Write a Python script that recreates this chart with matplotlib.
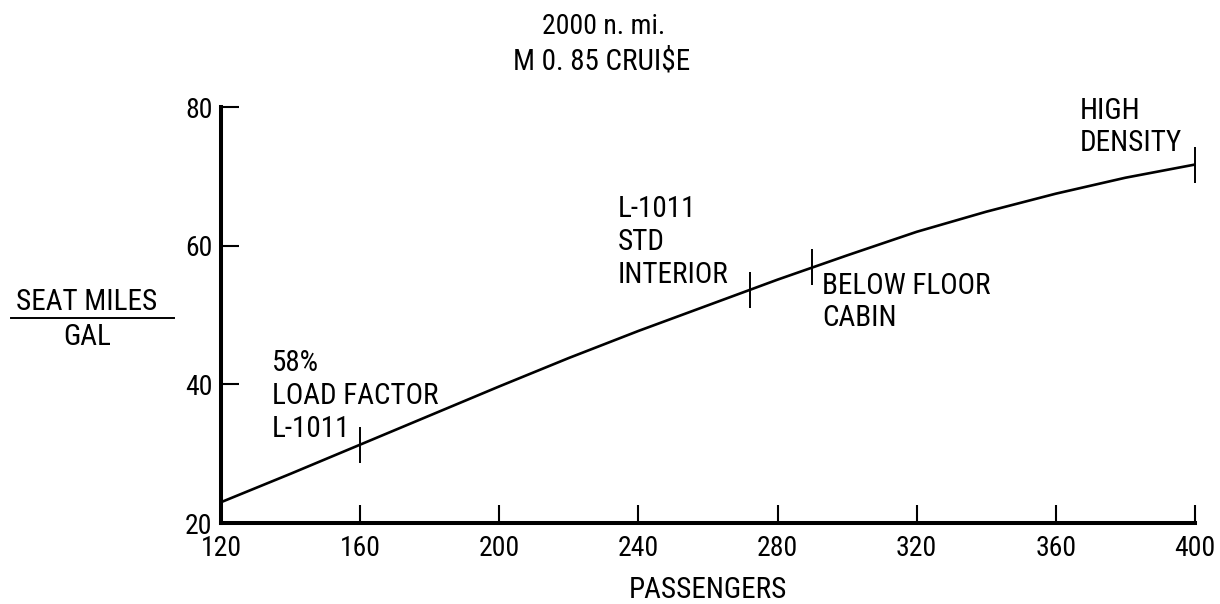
import matplotlib
matplotlib.use("Agg")
import matplotlib.pyplot as plt
from matplotlib import font_manager

# Seat-miles per gallon against passenger count, 2000 n.mi. at M 0.85
passengers = [120, 140, 160, 180, 200, 220, 240, 260, 280, 300, 320, 340, 360, 380, 400]
seat_mpg   = [23.0, 27.1, 31.3, 35.5, 39.7, 43.8, 47.7, 51.4, 55.1, 58.6, 62.0, 64.9, 67.5, 69.8, 71.7]

# configuration points marked on the curve
mark_pax = [160, 272, 290, 400]
mark_mpg = [31.3, 53.6, 56.9, 71.7]

x_ticks = [120, 160, 200, 240, 280, 320, 360, 400]
y_ticks = [20, 40, 60, 80]

names = {f.name for f in font_manager.fontManager.ttflist}
FONT = "Roboto Condensed" if "Roboto Condensed" in names else "DejaVu Sans"
plt.rcParams["font.family"] = [FONT, "DejaVu Sans"]

W, H = 1220, 604
fig = plt.figure(figsize=(W / 100, H / 100), dpi=100)
ax = fig.add_axes([221 / W, 81 / H, 974 / W, 416 / H])

ax.plot(passengers, seat_mpg, color="black", lw=1.9, solid_capstyle="butt")
ax.plot(mark_pax, mark_mpg, ls="none", marker="|", color="black",
        markersize=26, markeredgewidth=1.4)

ax.set_xlim(120, 400)
ax.set_ylim(20, 80)
ax.set_xticks(x_ticks)
ax.set_yticks(y_ticks)
for s in ["top", "right"]:
    ax.spines[s].set_visible(False)
for s in ["left", "bottom"]:
    ax.spines[s].set_linewidth(2.9)
ax.tick_params(direction="in", length=13, width=1.5, labelsize=20, pad=9, colors="black")
ax.tick_params(axis="y", pad=6)
ax.set_xlabel("PASSENGERS", fontsize=21, labelpad=10)


def px_text(x, y, s, **kw):
    # place text by pixel position measured from the top-left corner
    return fig.text(x / W, 1 - y / H, s, **kw)


# y-axis label written as a fraction
px_text(87, 302, "SEAT MILES", fontsize=21, ha="center", va="center")
fig.add_artist(plt.Line2D([11 / W, 174 / W], [1 - 318 / H] * 2, color="black", lw=1.4))
px_text(87, 337, "GAL", fontsize=21, ha="center", va="center")

px_text(604, 27, "2000 n. mi.", fontsize=20, ha="center", va="center")
px_text(602, 62, "M 0. 85 CRUI$E", fontsize=21, ha="center", va="center")

kw = dict(fontsize=21, ha="left", va="center", linespacing=1.22)
px_text(272, 396, "58%\nLOAD FACTOR\nL-1011", **kw)
px_text(618, 242, "L-1011\nSTD\nINTERIOR", **kw)
px_text(822, 302, "BELOW FLOOR\nCABIN", **kw)
px_text(1080, 127, "HIGH\nDENSITY", **kw)

fig.savefig("out.png", dpi=100)
